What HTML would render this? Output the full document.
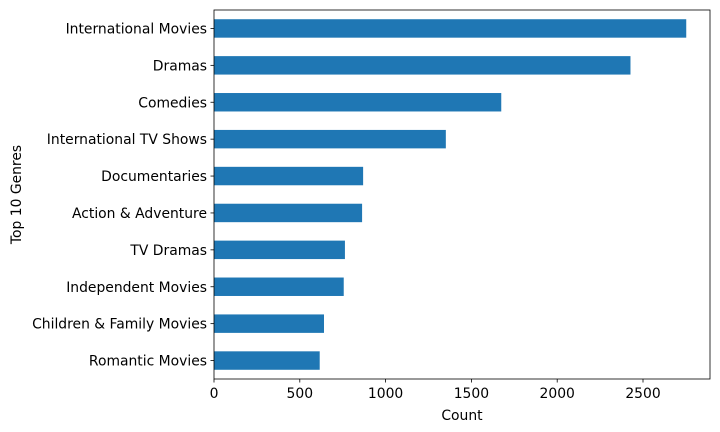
<!DOCTYPE html>
<html><head><meta charset="utf-8">
<style>body{margin:0;background:#fff}svg{display:block;font-family:"DejaVu Sans","Liberation Sans",sans-serif}</style>
</head><body>
<svg id="chart" width="720" height="432" viewBox="0 0 720 432" xmlns="http://www.w3.org/2000/svg"></svg>
<script>
const categories = ["International Movies","Dramas","Comedies","International TV Shows","Documentaries","Action & Adventure","TV Dramas","Independent Movies","Children & Family Movies","Romantic Movies"];
const counts = [2752,2427,1674,1351,869,863,763,756,641,616];
const xTicks = [0,500,1000,1500,2000,2500];

const svg = document.getElementById('chart');
const NS = 'http://www.w3.org/2000/svg';
const L = 214, R = 710, T = 10, B = 379;
const FS = 13.9;
const xScale = v => L + v * (85.8 / 500);
const step = (B - T) / categories.length;
const yCenter = i => T + step * (i + 0.5);
function mk(tag, attrs, text) {
  const e = document.createElementNS(NS, tag);
  for (const k in attrs) e.setAttribute(k, attrs[k]);
  if (text !== undefined) e.textContent = text;
  svg.appendChild(e);
  return e;
}
categories.forEach((c, i) => {
  const bh = step * 0.5;
  const r = mk('rect', {x: L, y: yCenter(i) - bh / 2, width: xScale(counts[i]) - L, height: bh, fill: '#1f77b4'});
  
  
  const tk = mk('line', {x1: L - 3.5, x2: L, y1: yCenter(i), y2: yCenter(i), stroke: '#000', 'stroke-width': 0.8});
  
  
  const t = mk('text', {x: L - 7, y: yCenter(i) + 5, 'text-anchor': 'end', 'font-size': FS, fill: '#000'}, c);
  
  
});
xTicks.forEach(v => {
  const tk = mk('line', {x1: xScale(v), x2: xScale(v), y1: B, y2: B + 3.5, stroke: '#000', 'stroke-width': 0.8});
  
  
  const t = mk('text', {x: xScale(v), y: B + 19, 'text-anchor': 'middle', 'font-size': FS, fill: '#000'}, String(v));
  
  
});
const frame = mk('rect', {x: L, y: T, width: R - L, height: B - T, fill: 'none', stroke: '#000', 'stroke-width': 0.8});


const xt = mk('text', {x: (L + R) / 2, y: 420, 'text-anchor': 'middle', 'font-size': FS, fill: '#000'}, 'Count');


const yt = mk('text', {x: 21, y: (T + B) / 2, 'text-anchor': 'middle', 'font-size': FS, fill: '#000', transform: 'rotate(-90 21 ' + (T + B) / 2 + ')'}, 'Top 10 Genres');


</script>
</body></html>
